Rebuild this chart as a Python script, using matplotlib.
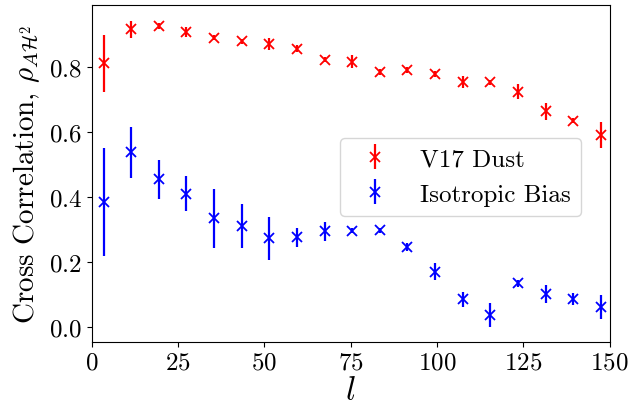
import matplotlib
matplotlib.use("Agg")
import matplotlib.pyplot as plt
import numpy as np

plt.rcParams['font.family'] = 'serif'
plt.rcParams['font.serif'] = ['cmr10', 'DejaVu Serif']
plt.rcParams['mathtext.fontset'] = 'cm'
plt.rcParams['axes.formatter.use_mathtext'] = True

ell = [3.5, 11.5, 19.5, 27.5, 35.5, 43.5, 51.5, 59.5, 67.5, 75.5,
       83.5, 91.5, 99.5, 107.5, 115.5, 123.5, 131.5, 139.5, 147.5]

dust_rho = [0.813, 0.918, 0.928, 0.908, 0.892, 0.880, 0.872, 0.858, 0.824, 0.818,
            0.786, 0.792, 0.779, 0.754, 0.754, 0.725, 0.664, 0.635, 0.591]
dust_err = [0.088, 0.026, 0.010, 0.015, 0.008, 0.008, 0.017, 0.010, 0.008, 0.019,
            0.010, 0.010, 0.010, 0.019, 0.008, 0.023, 0.026, 0.008, 0.041]

iso_rho = [0.384, 0.538, 0.455, 0.411, 0.334, 0.311, 0.273, 0.276, 0.294, 0.296,
           0.298, 0.245, 0.170, 0.085, 0.037, 0.134, 0.101, 0.085, 0.060]
iso_err = [0.166, 0.078, 0.060, 0.053, 0.092, 0.069, 0.066, 0.029, 0.029, 0.008,
           0.008, 0.012, 0.026, 0.023, 0.036, 0.010, 0.028, 0.019, 0.037]

labels = ['V17 Dust', 'Isotropic Bias']
xticks = [0, 25, 50, 75, 100, 125, 150]

fig = plt.figure(figsize=(6.32, 4.10), dpi=100)
ax = fig.add_axes([0.1448, 0.164, 0.8196, 0.822])

ax.errorbar(ell, dust_rho, yerr=dust_err, fmt='x', color='r', ms=7, mew=1.3,
            elinewidth=1.6, label=labels[0])
ax.errorbar(ell, iso_rho, yerr=iso_err, fmt='x', color='b', ms=7, mew=1.3,
            elinewidth=1.6, label=labels[1])

ax.set_xlim(0, 150)
ax.set_ylim(-0.046, 0.993)
ax.set_xticks(xticks)
ax.set_yticks([0.0, 0.2, 0.4, 0.6, 0.8])
ax.tick_params(labelsize=18)
ax.set_xlabel(r'$l$', fontsize=24, labelpad=2)
ax.set_ylabel(r'Cross Correlation, $\rho_{A\mathcal{H}^2}$', fontsize=21, labelpad=5)

ax.legend(loc='upper left', bbox_to_anchor=(0.4797, 0.6045), borderaxespad=0,
          fontsize=18)

fig.savefig('out.png', dpi=100)
